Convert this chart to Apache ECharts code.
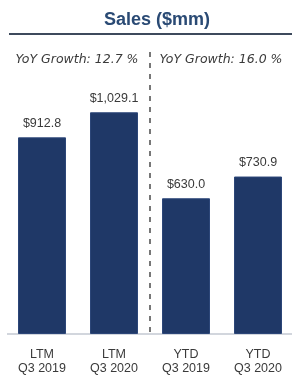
<!DOCTYPE html>
<html>
<head>
<meta charset="utf-8">
<script src="https://cdn.jsdelivr.net/npm/echarts@6/dist/echarts.min.js"></script>
<style>
  html, body { margin: 0; padding: 0; background: #fff; }
  #chart { width: 294px; height: 375px; }
</style>
</head>
<body>
<div id="chart"></div>
<script>
const categories = ['LTM\nQ3 2019', 'LTM\nQ3 2020', 'YTD\nQ3 2019', 'YTD\nQ3 2020']
const sales = [912.8, 1029.1, 630.0, 730.9]
const growthNotes = ['YoY Growth: 12.7 %', 'YoY Growth: 16.0 %']

const chart = echarts.init(document.getElementById('chart'))
const font = 'Liberation Sans, Arial, sans-serif'
const wideFont = 'DejaVu Sans, sans-serif'

const option = {
  animation: false,
  title: {
    text: 'Sales ($mm)',
    left: 152,
    textAlign: 'center',
    top: 6,
    textStyle: { color: '#2a4a74', fontSize: 18, fontWeight: 'bold', fontFamily: font }
  },
  grid: { left: 6, width: 291, top: 41, bottom: 41 },
  xAxis: {
    type: 'category',
    data: categories,
    axisTick: { show: false },
    axisLine: { show: false },
    axisLabel: {
      color: '#3a3a3a',
      fontSize: 12.5,
      fontFamily: font,
      lineHeight: 13.5,
      margin: 14
    }
  },
  yAxis: {
    type: 'value',
    min: 0,
    max: 1360,
    show: false
  },
  series: [{
    type: 'bar',
    data: sales,
    barWidth: 48,
    itemStyle: { color: '#1f3867', borderColor: '#2c4678', borderWidth: 1 },
    label: {
      show: true,
      position: 'top',
      distance: 7,
      color: '#3a3a3a',
      fontSize: 12.5,
      fontFamily: font,
      formatter: p => '$' + p.value.toLocaleString('en-US', { minimumFractionDigits: 1, maximumFractionDigits: 1 })
    }
  }],
  graphic: [
    {
      type: 'line',
      shape: { x1: 9, y1: 34, x2: 292, y2: 34 },
      style: { stroke: '#3d4a5c', lineWidth: 2 }
    },
    {
      type: 'line',
      shape: { x1: 7, y1: 334, x2: 292, y2: 334 },
      style: { stroke: '#a5adbb', lineWidth: 1 }
    },
    {
      type: 'line',
      shape: { x1: 150, y1: 52, x2: 150, y2: 333 },
      style: { stroke: '#555', lineWidth: 1.6, lineDash: [5, 6] }
    },
    {
      type: 'text',
      x: 77, y: 60,
      style: {
        text: growthNotes[0], fill: '#3a3a3a', fontSize: 12.5, fontStyle: 'italic',
        fontFamily: wideFont, align: 'center', verticalAlign: 'middle'
      }
    },
    {
      type: 'text',
      x: 221, y: 60,
      style: {
        text: growthNotes[1], fill: '#3a3a3a', fontSize: 12.5, fontStyle: 'italic',
        fontFamily: wideFont, align: 'center', verticalAlign: 'middle'
      }
    }
  ]
}

chart.setOption(option)
</script>
</body>
</html>
